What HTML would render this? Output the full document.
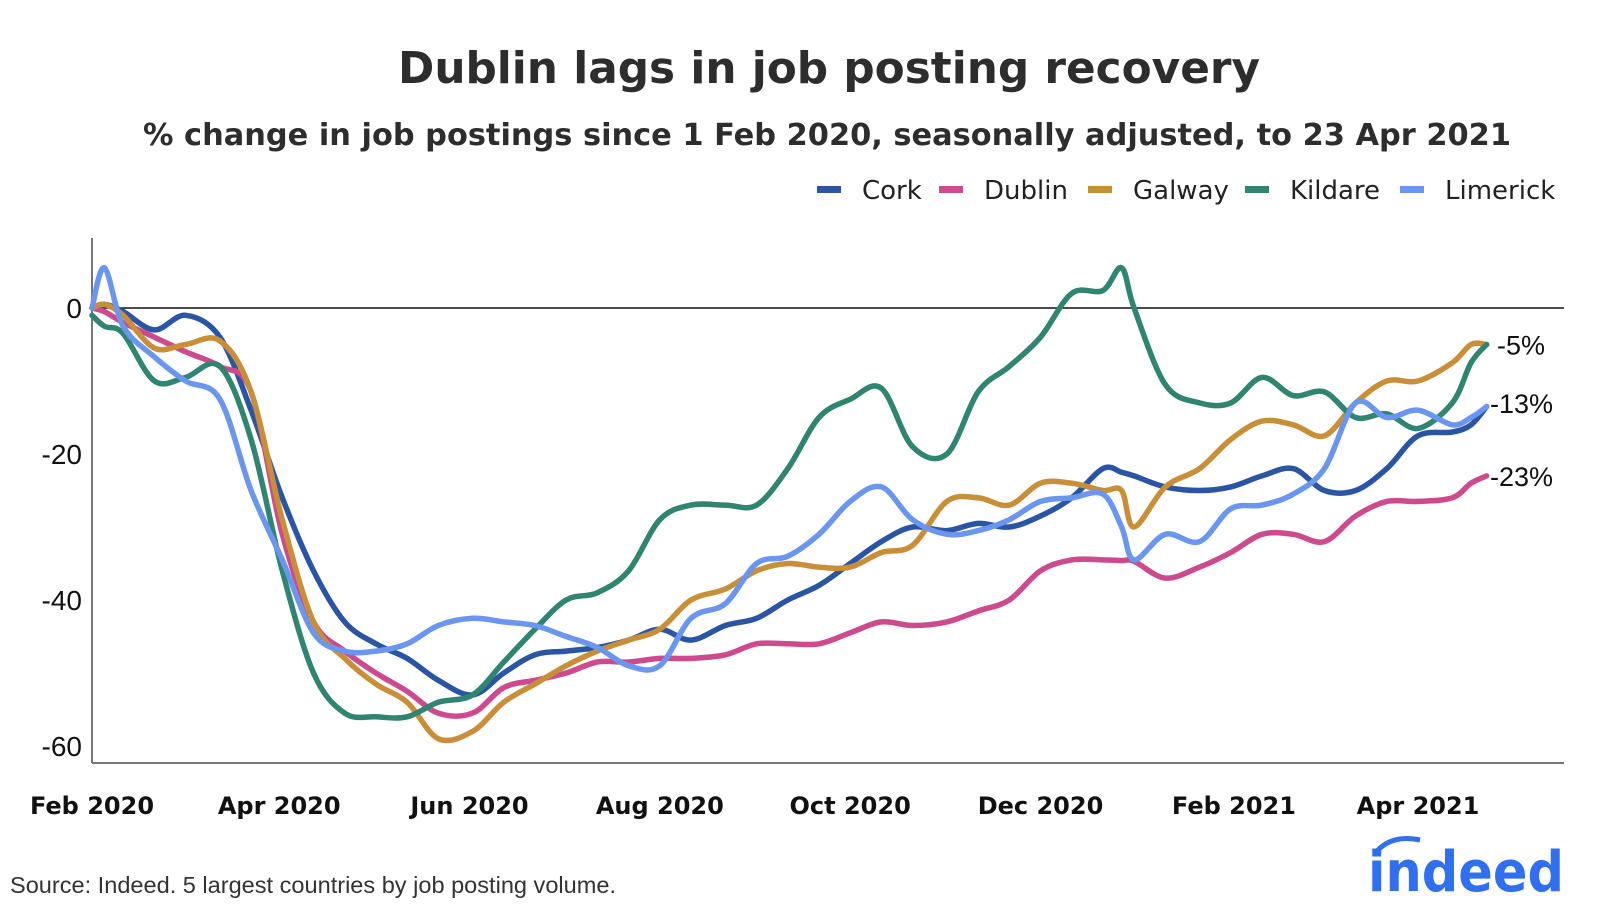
<!DOCTYPE html>
<html><head><meta charset="utf-8">
<style>
body{margin:0;background:#fff;width:1600px;height:909px;overflow:hidden;font-family:"Liberation Sans","DejaVu Sans",sans-serif;}
svg{display:block}
</style></head>
<body>
<svg id="chart" width="1600" height="909" viewBox="0 0 1600 909" xmlns="http://www.w3.org/2000/svg">
  <text x="829" y="83" text-anchor="middle" font-family="DejaVu Sans, sans-serif" font-weight="bold" font-size="44" fill="#2d2d2d" textLength="862" lengthAdjust="spacingAndGlyphs">Dublin lags in job posting recovery</text>
  <text x="827" y="145" text-anchor="middle" font-family="DejaVu Sans, sans-serif" font-weight="bold" font-size="30" fill="#2d2d2d" textLength="1368" lengthAdjust="spacingAndGlyphs">% change in job postings since 1 Feb 2020, seasonally adjusted, to 23 Apr 2021</text>
  <g id="legend"></g>
  <g id="yaxis"></g>
  <g id="xaxis"></g>
  <g id="series"></g>
  <g id="endlabels"></g>
  <text x="10" y="893" font-size="23" fill="#333" textLength="606" lengthAdjust="spacingAndGlyphs">Source: Indeed. 5 largest countries by job posting volume.</text>
  <g>
    <path d="M1376 852 Q1392 834 1420 840" stroke="#2f6ff0" stroke-width="5" fill="none"/>
    <text x="1564" y="891" text-anchor="end" font-family="DejaVu Sans, sans-serif" font-weight="bold" font-size="56" fill="#2f6ff0" textLength="196" lengthAdjust="spacingAndGlyphs">indeed</text>
  </g>
</svg>
<script>
const days = [0,4,10,20,30,41,51,61,71,81,91,101,111,122,132,142,152,162,172,182,192,203,213,223,233,243,253,263,274,284,294,304,314,324,330,334,344,355,365,375,385,395,405,415,425,436,442,447];
const cork = [0,0.5,-0.5,-3,-1,-4,-14,-26,-36,-43,-46,-48,-51,-53,-50,-47.5,-47,-46.5,-45.5,-44,-45.5,-43.5,-42.5,-40,-38,-35,-32,-30,-30.5,-29.5,-30,-28.5,-26,-22,-22.5,-23,-24.5,-25,-24.5,-23,-22,-25,-25,-22,-17.5,-17,-16,-13.5];
const dublin = [0,-0.5,-2,-4,-6,-8,-11.5,-31,-43,-47,-50,-52.5,-55.5,-55.5,-52,-51,-50,-48.5,-48.5,-48,-48,-47.5,-46,-46,-46,-44.5,-43,-43.5,-43,-41.5,-40,-36,-34.5,-34.5,-34.6,-34.7,-37,-35.5,-33.5,-31,-31,-32,-28.5,-26.5,-26.5,-26,-24,-23];
const galway = [0,0.5,-1,-5.5,-5,-4.5,-11.5,-29,-43,-48,-51.5,-54,-59,-58,-54,-51.5,-49,-47,-45.5,-44,-40,-38.5,-36,-35,-35.5,-35.5,-33.5,-32.5,-26.5,-26,-27,-24,-24,-25,-25,-30,-24.5,-22,-18,-15.5,-16,-17.5,-13,-10,-10,-7.5,-5,-5];
const kildare = [-1,-2.5,-3.5,-10,-9.5,-8,-18,-36,-50,-55.5,-56,-56,-54,-53,-48.5,-44,-40,-39,-36,-29,-27,-27,-27,-22,-15,-12.5,-11,-19,-20,-11.5,-8,-4,2,2.4,5.5,0,-10.5,-13,-13,-9.5,-12,-11.5,-15,-14.5,-16.5,-13,-7.5,-5];
const limerick = [0,5.5,-2.5,-6.7,-10,-12.5,-25,-34.5,-44.5,-47,-47,-46,-43.5,-42.5,-43,-43.5,-45,-46.5,-49,-49,-42.5,-40.5,-35,-34,-31,-26.5,-24.5,-29,-31,-30.5,-29,-26.5,-26,-25.5,-30,-34.5,-31,-32,-27.5,-27,-25.5,-22,-13,-15,-14,-16,-15,-13.5];
const seriesNames = ["Cork","Dublin","Galway","Kildare","Limerick"];
const seriesColors = ["#2a55a5","#cc4a8d","#c98f38","#2f8570","#6a96f0"];
const yTicks = [0,-20,-40,-60];
const xTickDays = [0,60,121,182,243,304,366,425];
const xTickLabels = ["Feb 2020","Apr 2020","Jun 2020","Aug 2020","Oct 2020","Dec 2020","Feb 2021","Apr 2021"];
const endLabels = ["-5%","-13%","-23%"];
const endValues = [-5,-13,-23];

const NS="http://www.w3.org/2000/svg";
const X0=92, XPD=3.12, Y0=308, YPU=7.30, XR=1564, YB=763;
const xs=d=>X0+d*XPD, ys=v=>Y0-v*YPU;
function mk(tag,parent,attrs){const e=document.createElementNS(NS,tag);for(const k in attrs)e.setAttribute(k,attrs[k]);parent.appendChild(e);return e;}

const ya=document.getElementById('yaxis');
let ax=mk('line',ya,{x1:X0,x2:X0,y1:238,y2:YB,stroke:'#777','stroke-width':2});


let bx=mk('line',ya,{x1:X0,x2:XR,y1:YB,y2:YB,stroke:'#777','stroke-width':2});


let zl=mk('line',ya,{x1:X0,x2:XR,y1:ys(0),y2:ys(0),stroke:'#111','stroke-width':1.5});


yTicks.forEach(v=>{const t=mk('text',ya,{x:82,y:ys(v)+10,'text-anchor':'end','font-size':28,fill:'#111'});t.textContent=v;

});

const xa=document.getElementById('xaxis');
xTickDays.forEach((d,i)=>{const t=mk('text',xa,{x:xs(d),y:814,'text-anchor':'middle','font-size':24,'font-weight':'bold',fill:'#111','font-family':'DejaVu Sans, sans-serif'});t.textContent=xTickLabels[i];

});

function smoothPath(pts){
  let d='M'+pts[0][0].toFixed(1)+','+pts[0][1].toFixed(1);
  for(let i=0;i<pts.length-1;i++){
    const p0=pts[Math.max(0,i-1)],p1=pts[i],p2=pts[i+1],p3=pts[Math.min(pts.length-1,i+2)];
    const c1x=p1[0]+(p2[0]-p0[0])/6,c1y=p1[1]+(p2[1]-p0[1])/6;
    const c2x=p2[0]-(p3[0]-p1[0])/6,c2y=p2[1]-(p3[1]-p1[1])/6;
    d+=' C'+c1x.toFixed(1)+','+c1y.toFixed(1)+' '+c2x.toFixed(1)+','+c2y.toFixed(1)+' '+p2[0].toFixed(1)+','+p2[1].toFixed(1);
  }
  return d;
}
const sg=document.getElementById('series');
[cork,dublin,galway,kildare,limerick].forEach((vals,i)=>{
  const pts=vals.map((v,j)=>[xs(days[j]),ys(v)]);
  const p=mk('path',sg,{d:smoothPath(pts),fill:'none',stroke:seriesColors[i],'stroke-width':5.5,'stroke-linejoin':'round','stroke-linecap':'round'});
  
  
});

const el=document.getElementById('endlabels');
endLabels.forEach((s,i)=>{const t=mk('text',el,{x:1490,y:ys(endValues[i])+10,'font-size':27,fill:'#111'});t.textContent=s;

});
el.children[0].setAttribute('x',1497);

const lg=document.getElementById('legend');
const legX=[817,939,1088,1245,1400];
seriesNames.forEach((n,i)=>{
  const g=mk('g',lg,{});
  
  
  mk('rect',g,{x:legX[i],y:186,width:24,height:7,fill:seriesColors[i]});
  const t=mk('text',g,{x:legX[i]+45,y:199,'font-size':26,fill:'#222','font-family':'DejaVu Sans, sans-serif'});t.textContent=n;
});
</script>
</body></html>
